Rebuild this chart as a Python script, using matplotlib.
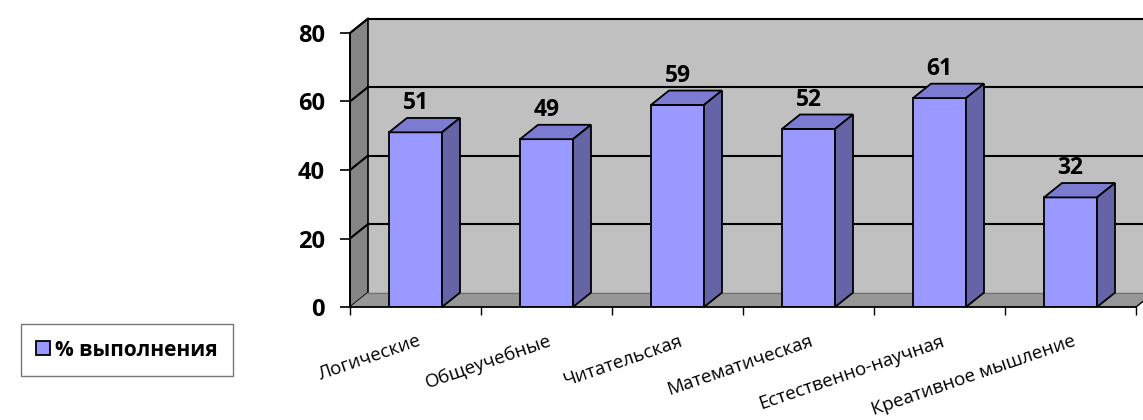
import matplotlib
matplotlib.use("Agg")
from matplotlib import pyplot as plt
from matplotlib.patches import Polygon, Patch
import numpy as np

plt.rcParams['font.family'] = ['Open Sans', 'DejaVu Sans']

categories = ['Логические', 'Общеучебные', 'Читательская', 'Математическая',
              'Естественно-научная', 'Креативное мышление']
values = [51, 49, 59, 52, 61, 32]
series_name = '% выполнения'
yticks = [0, 20, 40, 60, 80]

front_c = '#9999FF'
top_c = '#7B7BD2'
side_c = '#6464A6'
wall_c = '#C0C0C0'
lwall_c = '#858585'
floor_c = '#979797'

fig = plt.figure(figsize=(11.43, 4.2), dpi=100)
# axes placed so that category edges / value levels hit the reference pixels
ax = fig.add_axes([350 / 1143, 113 / 420, 786 / 1143, 274 / 420])
ax.set_xlim(0, len(categories))
ax.set_ylim(0, 80)
ax.patch.set_alpha(0)

dx = 18 / 131.0   # depth offset in category units
dy = 4.2          # depth offset in value units
ymax = yticks[-1]
n = len(categories)

# back wall, left wall, floor
ax.add_patch(Polygon([(dx, dy), (n + dx, dy), (n + dx, ymax + dy), (dx, ymax + dy)],
                     closed=True, facecolor=wall_c, edgecolor='none', clip_on=False, zorder=1))
ax.add_patch(Polygon([(0, 0), (dx, dy), (dx, ymax + dy), (0, ymax)],
                     closed=True, facecolor=lwall_c, edgecolor='black', lw=1.2, clip_on=False, zorder=1))
ax.add_patch(Polygon([(0, 0), (n, 0), (n + dx, dy), (dx, dy)],
                     closed=True, facecolor=floor_c, edgecolor='none', clip_on=False, zorder=1))
ax.plot([dx, n + dx], [dy, dy], color='#707070', lw=0.8, clip_on=False, zorder=2)
ax.plot([n, n + dx], [0, dy], color='black', lw=1.0, clip_on=False, zorder=2)

# gridlines on walls
for v in yticks[1:]:
    ax.plot([dx, n + dx], [v + dy, v + dy], color='black', lw=1.5, clip_on=False, zorder=2)
    ax.plot([0, dx], [v, v + dy], color='black', lw=1.5, clip_on=False, zorder=2)

# bars
w = 53 / 131.0
x = np.arange(n) + 0.5
ax.bar(x, values, width=w, color=front_c, edgecolor='black', linewidth=1.3, zorder=4)
for xi, v in zip(x, values):
    l, r = xi - w / 2, xi + w / 2
    ax.add_patch(Polygon([(l, v), (r, v), (r + dx, v + dy), (l + dx, v + dy)], closed=True,
                         facecolor=top_c, edgecolor='black', lw=1.3, clip_on=False, zorder=4))
    ax.add_patch(Polygon([(r, 0), (r + dx, dy), (r + dx, v + dy), (r, v)], closed=True,
                         facecolor=side_c, edgecolor='black', lw=1.3, clip_on=False, zorder=4))
    ax.text(xi, v + dy + 0.8, str(v), ha='center', va='bottom',
            fontsize=16.5, fontweight='bold', zorder=5)

# axes
for s in ['top', 'right']:
    ax.spines[s].set_visible(False)
ax.spines['left'].set_linewidth(1.3)
ax.spines['bottom'].set_linewidth(1.3)
ax.spines['left'].set_zorder(6)
ax.spines['bottom'].set_zorder(6)
ax.set_yticks(yticks)
ax.set_yticklabels([str(t) for t in yticks], fontsize=17, fontweight='bold')
ax.tick_params(axis='y', length=7, width=1.2, pad=11)
ax.set_xticks(np.arange(n + 1))
ax.set_xticklabels([])
ax.tick_params(axis='x', length=6, width=1.0)

for xi, c in zip(x, categories):
    ax.text(xi + 0.01, -7.3, c, rotation=19, ha='right', va='top', fontsize=13.5,
            rotation_mode='anchor', zorder=5)

leg = fig.legend(handles=[Patch(facecolor=front_c, edgecolor='black', lw=1.3)],
                 labels=[series_name], loc='center',
                 bbox_to_anchor=(127 / 1143, 1 - 350 / 420),
                 prop={'weight': 'bold', 'size': 15}, fancybox=False,
                 handlelength=0.65, handleheight=0.65, handletextpad=0.25,
                 borderpad=0.75, borderaxespad=0)
leg.get_frame().set_edgecolor('#555555')
leg.get_frame().set_linewidth(1.0)

fig.savefig('out.png', dpi=100)
